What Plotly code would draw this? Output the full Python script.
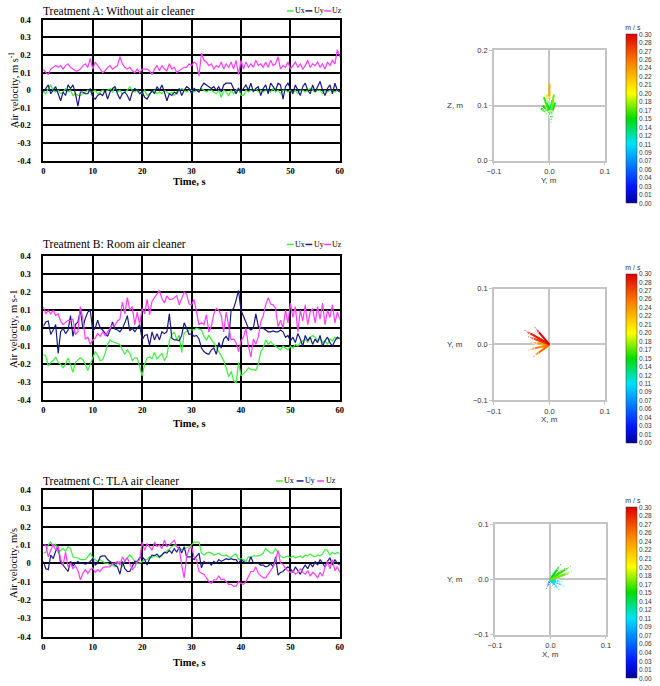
import numpy as np
import plotly.graph_objects as go
from plotly.colors import sample_colorscale

# ---------------- data ----------------
TIME = np.arange(0, 60.5, 0.5).tolist()

UX_A = [-0.01, -0.02, 0.01, 0.03, 0.00, -0.01, 0.00, -0.02, -0.01, 0.01,
        -0.01, 0.00, -0.03, -0.02, -0.03, -0.03, -0.02, -0.01, 0.00, -0.01,
        -0.01, 0.00, -0.02, -0.01, 0.00, -0.01, 0.00, 0.01, -0.01, 0.02,
        -0.01, 0.00, -0.02, -0.01, 0.00, 0.02, 0.00, -0.01, 0.00, -0.01,
        -0.02, 0.00, -0.03, -0.02, -0.01, 0.00, -0.02, -0.01, -0.02, 0.00,
        -0.01, -0.02, -0.01, -0.03, -0.01, 0.00, 0.01, 0.00, -0.01, 0.00,
        0.00, -0.01, 0.00, 0.00, 0.01, 0.00, -0.01, 0.00, 0.00, -0.01,
        -0.02, 0.00, -0.04, 0.00, -0.01, -0.03, 0.00, -0.02, 0.00, 0.01,
        -0.03, -0.03, 0.00, -0.01, 0.00, 0.00, 0.01, -0.01, 0.00, -0.01,
        0.00, 0.00, -0.01, 0.01, -0.01, 0.00, -0.02, 0.00, 0.00, -0.01,
        0.00, -0.01, 0.00, -0.02, 0.00, 0.00, -0.01, 0.00, 0.01, 0.00,
        -0.01, 0.00, 0.00, -0.02, 0.00, -0.01, 0.00, 0.00, -0.01, 0.00,
        -0.01]
UY_A = [-0.01, 0.01, 0.03, -0.02, 0.00, 0.02, -0.02, -0.06, -0.01, -0.03,
        0.03, 0.01, 0.03, -0.02, -0.09, -0.01, -0.01, -0.02, -0.02, 0.01,
        -0.04, -0.05, -0.03, -0.02, -0.03, 0.00, -0.05, -0.01, 0.01, 0.02,
        -0.02, -0.05, -0.02, -0.01, -0.03, -0.06, -0.01, 0.01, 0.00, -0.02,
        -0.01, -0.04, -0.05, -0.02, 0.00, -0.02, 0.02, 0.00, 0.03, -0.01,
        -0.06, -0.02, -0.03, -0.01, -0.02, 0.01, -0.03, 0.00, 0.02, 0.01,
        -0.02, 0.01, 0.00, -0.01, 0.02, 0.04, 0.03, 0.02, 0.01, 0.02,
        0.00, 0.02, -0.01, 0.03, 0.04, 0.04, 0.04, 0.01, -0.02, 0.01,
        -0.01, 0.01, 0.03, 0.00, 0.04, -0.01, 0.01, 0.02, -0.03, 0.01,
        0.03, -0.02, 0.04, 0.02, 0.00, 0.04, 0.03, -0.05, 0.02, 0.04,
        0.01, -0.02, 0.03, 0.00, -0.03, 0.02, 0.04, 0.00, -0.02, 0.03,
        -0.01, 0.02, 0.05, 0.00, -0.03, 0.01, 0.03, -0.02, 0.04, 0.00,
        -0.01]
UZ_A = [0.12, 0.10, 0.09, 0.12, 0.13, 0.14, 0.13, 0.14, 0.12, 0.14,
        0.15, 0.13, 0.12, 0.11, 0.11, 0.12, 0.14, 0.15, 0.13, 0.18,
        0.12, 0.16, 0.14, 0.12, 0.10, 0.11, 0.13, 0.14, 0.12, 0.13,
        0.14, 0.19, 0.15, 0.13, 0.12, 0.13, 0.11, 0.10, 0.12, 0.10,
        0.12, 0.12, 0.12, 0.11, 0.09, 0.12, 0.14, 0.11, 0.14, 0.12,
        0.11, 0.15, 0.12, 0.13, 0.10, 0.11, 0.12, 0.13, 0.13, 0.15,
        0.14, 0.16, 0.15, 0.08, 0.21, 0.17, 0.16, 0.14, 0.15, 0.12,
        0.14, 0.13, 0.16, 0.12, 0.15, 0.13, 0.16, 0.12, 0.17, 0.09,
        0.17, 0.12, 0.16, 0.13, 0.15, 0.13, 0.17, 0.14, 0.15, 0.13,
        0.16, 0.13, 0.17, 0.14, 0.15, 0.19, 0.12, 0.14, 0.13, 0.16,
        0.12, 0.14, 0.16, 0.13, 0.15, 0.12, 0.14, 0.17, 0.13, 0.15,
        0.14, 0.16, 0.13, 0.15, 0.12, 0.16, 0.14, 0.17, 0.15, 0.23,
        0.19]

UX_B = [-0.145, -0.155, -0.21, -0.19, -0.18, -0.16, -0.19, -0.20, -0.22, -0.20,
        -0.165, -0.20, -0.245, -0.19, -0.18, -0.165, -0.175, -0.20, -0.235, -0.20,
        -0.175, -0.13, -0.15, -0.18, -0.175, -0.14, -0.09, -0.065, -0.075, -0.08,
        -0.085, -0.09, -0.12, -0.145, -0.12, -0.14, -0.18, -0.165, -0.165, -0.22,
        -0.265, -0.20, -0.165, -0.16, -0.17, -0.135, -0.17, -0.155, -0.14, -0.18,
        -0.155, -0.07, -0.035, -0.02, -0.065, -0.04, -0.135, -0.025, -0.02, -0.01,
        -0.01, -0.01, 0.00, -0.005, -0.01, -0.045, -0.065, -0.04, -0.065, -0.08,
        -0.11, -0.13, -0.155, -0.18, -0.22, -0.27, -0.24, -0.29, -0.305, -0.19,
        -0.265, -0.255, -0.24, -0.22, -0.23, -0.23, -0.235, -0.20, -0.13, -0.11,
        -0.065, -0.09, -0.075, -0.09, -0.10, -0.11, -0.12, -0.10, -0.11, -0.12,
        -0.10, -0.11, -0.09, -0.10, -0.08, -0.07, -0.06, -0.08, -0.05, -0.04,
        -0.05, -0.07, -0.06, -0.08, -0.07, -0.09, -0.06, -0.07, -0.05, -0.06,
        -0.05]
UY_B = [0.01, 0.035, 0.04, -0.035, -0.01, 0.02, -0.14, -0.02, 0.00, -0.03,
        -0.01, 0.07, -0.045, 0.02, 0.035, 0.10, 0.00, 0.055, 0.09, 0.10,
        -0.015, 0.00, 0.045, 0.00, -0.01, -0.03, -0.045, -0.01, 0.035, -0.005,
        -0.01, -0.02, 0.00, 0.03, 0.07, -0.015, 0.00, -0.02, 0.00, 0.02,
        -0.065, -0.04, -0.035, -0.095, -0.02, -0.065, -0.03, -0.065, -0.02, -0.03,
        -0.02, 0.08, -0.055, -0.065, -0.065, -0.07, -0.04, 0.03, 0.00, -0.035,
        -0.03, -0.045, -0.04, -0.06, -0.11, -0.13, -0.14, -0.145, -0.12, -0.11,
        -0.145, -0.08, -0.11, -0.06, -0.045, -0.07, 0.10, 0.11, 0.155, 0.21,
        0.10, 0.07, 0.03, 0.00, -0.01, 0.00, 0.08, 0.01, 0.00, 0.00,
        -0.01, -0.02, -0.02, -0.015, -0.02, -0.02, -0.01, -0.02, -0.05, -0.04,
        -0.07, -0.05, -0.08, -0.03, -0.06, -0.10, -0.04, -0.07, -0.05, -0.09,
        -0.06, -0.08, -0.04, -0.10, -0.07, -0.05, -0.08, -0.10, -0.07, -0.05,
        -0.06]
UZ_B = [0.12, 0.08, 0.10, 0.08, 0.10, 0.07, 0.08, 0.04, 0.02, 0.03,
        0.045, 0.04, 0.05, -0.035, -0.02, 0.12, 0.05, -0.06, -0.05, -0.09,
        -0.065, -0.055, -0.03, -0.045, -0.02, -0.04, -0.02, 0.00, 0.02, 0.015,
        0.04, 0.05, 0.145, 0.08, 0.17, 0.10, 0.12, 0.02, 0.09, 0.02,
        0.11, 0.08, 0.16, 0.075, 0.15, 0.17, 0.19, 0.21, 0.165, 0.14,
        0.18, 0.16, 0.16, 0.17, 0.18, 0.13, 0.16, 0.20, 0.19, 0.135,
        0.13, 0.16, 0.09, 0.02, 0.03, 0.02, 0.075, -0.02, 0.01, 0.08,
        0.11, 0.10, 0.07, -0.02, 0.09, 0.01, -0.065, -0.06, -0.08, -0.13,
        -0.07, -0.05, 0.00, -0.10, -0.16, -0.06, -0.09, -0.05, 0.035, 0.07,
        0.13, 0.17, 0.135, 0.13, 0.11, 0.01, 0.045, 0.00, 0.10, 0.03,
        0.14, 0.06, 0.12, -0.02, 0.10, 0.04, 0.13, 0.02, 0.09, 0.11,
        0.03, 0.12, 0.05, 0.14, 0.02, 0.10, 0.06, 0.13, 0.03, 0.09,
        0.05]

UX_C = [0.055, 0.06, 0.10, 0.115, 0.09, 0.105, 0.06, 0.07, 0.08, 0.065,
        0.09, 0.08, 0.035, 0.03, 0.03, 0.02, 0.02, 0.02, 0.035, 0.055,
        0.03, 0.02, 0.01, 0.02, 0.01, 0.00, 0.00, -0.01, -0.01, -0.02,
        0.00, 0.01, -0.02, 0.02, 0.03, 0.045, 0.03, 0.01, 0.00, 0.00,
        0.01, 0.02, 0.02, 0.035, 0.03, 0.045, 0.035, 0.03, 0.045, 0.055,
        0.065, 0.075, 0.09, 0.10, 0.09, 0.08, 0.075, 0.08, 0.085, 0.09,
        0.10, 0.115, 0.115, 0.115, 0.055, 0.045, 0.055, 0.06, 0.055, 0.045,
        0.05, 0.055, 0.045, 0.04, 0.045, 0.035, 0.032, 0.045, 0.05, 0.02,
        0.025, 0.02, 0.01, 0.035, 0.03, 0.04, 0.04, 0.04, 0.045, 0.055,
        0.08, 0.07, 0.055, 0.055, 0.08, 0.06, 0.04, 0.03, 0.035, 0.04,
        0.03, 0.04, 0.03, 0.035, 0.04, 0.03, 0.045, 0.04, 0.05, 0.04,
        0.035, 0.045, 0.04, 0.05, 0.075, 0.07, 0.045, 0.06, 0.05, 0.06,
        0.05]
UY_C = [0.01, -0.03, -0.035, 0.045, 0.025, 0.065, 0.09, 0.00, -0.01, -0.03,
        -0.045, 0.01, -0.015, 0.00, 0.01, 0.00, 0.00, -0.005, 0.00, 0.01,
        0.025, -0.01, 0.00, 0.035, 0.04, 0.04, 0.02, 0.01, 0.00, -0.01,
        -0.02, -0.06, 0.01, -0.03, -0.045, -0.045, -0.02, 0.01, 0.01, 0.03,
        0.035, 0.02, -0.01, 0.025, 0.045, 0.04, 0.05, 0.035, 0.045, 0.06,
        0.055, 0.07, 0.055, 0.08, 0.06, 0.09, 0.055, 0.09, 0.035, 0.035,
        0.035, 0.02, 0.035, 0.055, -0.025, 0.01, 0.00, 0.005, -0.01, 0.01,
        0.00, 0.02, 0.01, 0.02, 0.025, 0.02, 0.025, 0.02, 0.02, 0.00,
        0.02, 0.01, 0.00, 0.00, 0.035, 0.00, 0.00, 0.00, -0.01, -0.01,
        -0.02, -0.015, 0.00, -0.02, 0.035, -0.065, -0.05, -0.045, -0.03, -0.02,
        -0.03, -0.05, -0.02, -0.04, -0.06, -0.03, -0.01, -0.03, 0.00, -0.02,
        0.01, -0.01, 0.02, 0.00, -0.02, 0.01, 0.03, -0.01, 0.02, 0.00,
        -0.01]
UZ_C = [0.10, 0.10, 0.035, 0.07, 0.105, 0.07, 0.095, 0.02, -0.01, 0.06,
        -0.02, 0.00, -0.03, -0.015, -0.04, -0.09, -0.055, -0.035, -0.055, -0.035,
        -0.025, -0.05, -0.035, -0.045, -0.025, -0.02, -0.02, -0.02, 0.00, 0.00,
        0.01, -0.01, 0.035, 0.01, 0.03, 0.00, -0.035, -0.02, 0.01, 0.02,
        0.115, 0.07, 0.105, 0.09, 0.07, 0.115, 0.09, 0.10, 0.08, 0.125,
        0.09, 0.10, 0.115, 0.125, 0.09, 0.08, -0.01, -0.08, 0.035, 0.08,
        0.09, 0.035, 0.02, -0.045, -0.055, -0.06, -0.08, -0.10, -0.11, -0.09,
        -0.09, -0.07, -0.09, -0.085, -0.10, -0.115, -0.115, -0.125, -0.125, -0.10,
        -0.11, -0.115, -0.10, -0.07, -0.045, -0.045, -0.02, -0.055, -0.07, -0.08,
        -0.08, -0.06, -0.035, -0.02, 0.02, 0.07, 0.00, -0.005, -0.03, -0.04,
        -0.05, -0.04, -0.06, -0.05, -0.03, -0.05, -0.06, -0.04, -0.07, -0.05,
        -0.06, -0.08, -0.05, -0.07, -0.02, 0.01, -0.03, 0.02, -0.04, -0.02,
        -0.05]

SERIES_NAMES = ["Ux", "Uy", "Uz"]
TITLES = ["Treatment A: Without air cleaner",
          "Treatment B: Room air cleaner",
          "Treatment C: TLA air cleaner"]
YTITLES = ["Air velocity, m s<sup>-1</sup>", "Air velocity, m s-1", "Air velocity, m/s"]
X_TICKS = [0, 10, 20, 30, 40, 50, 60]
Y_TICKS = [0.4, 0.3, 0.2, 0.1, 0.0, -0.1, -0.2, -0.3, -0.4]
Y_TICKTEXT = [["0.4", "0.3", "0.2", "0.1", "0", "-0.1", "-0.2", "-0.3", "-0.4"],
              ["0.4", "0.3", "0.2", "0.1", "0.0", "-0.1", "-0.2", "-0.3", "-0.4"],
              ["0.4", "0.3", "0.2", "0.1", "0", "-0.1", "-0.2", "-0.3", "-0.4"]]

# vector plots: segment starts/ends (m) and speed (m/s)
VA_Y0 = [0.000, -0.005, -0.010, 0.008, -0.012, 0.010, -0.004, 0.005, -0.015, 0.000]
VA_Z0 = [0.140, 0.120, 0.115, 0.120, 0.100, 0.105, 0.110, 0.110, 0.095, 0.105]
VA_Y1 = [0.000, 0.000, 0.002, 0.002, 0.000, 0.003, 0.003, 0.003, -0.005, 0.005]
VA_Z1 = [0.105, 0.100, 0.080, 0.080, 0.085, 0.080, 0.075, 0.070, 0.085, 0.080]
VA_S = [0.23, 0.19, 0.16, 0.17, 0.15, 0.15, 0.14, 0.11, 0.15, 0.13]

VB_X1 = [-0.044, -0.026, -0.038, -0.037, -0.028, -0.025, -0.019, -0.033, -0.012, -0.008, -0.030, -0.020]
VB_Y1 = [0.025, 0.030, 0.014, -0.010, -0.021, 0.008, -0.007, 0.004, -0.012, 0.003, 0.018, -0.016]
VB_S = [0.29, 0.30, 0.28, 0.25, 0.26, 0.22, 0.20, 0.24, 0.21, 0.15, 0.27, 0.23]

VC_X1 = [0.036, 0.038, 0.018, 0.030, 0.024, 0.015, -0.007, 0.009, 0.021, 0.026, 0.004]
VC_Y1 = [0.024, 0.014, 0.027, 0.0095, -0.012, -0.018, -0.016, 0.017, -0.004, 0.020, -0.010]
VC_S = [0.16, 0.17, 0.15, 0.16, 0.11, 0.10, 0.06, 0.12, 0.11, 0.15, 0.08]

CB_TICKVALS = [i * 0.015 for i in range(21)]
CB_TICKTEXT = ["0.00", "0.01", "0.03", "0.04", "0.06", "0.07", "0.09", "0.11", "0.12", "0.14",
               "0.15", "0.17", "0.18", "0.20", "0.21", "0.22", "0.24", "0.26", "0.27", "0.28", "0.30"]

for s in (UX_A, UY_A, UZ_A, UX_B, UY_B, UZ_B, UX_C, UY_C, UZ_C):
    assert len(s) == len(TIME), len(s)

# ---------------- layout helpers ----------------
W, H = 660, 686
def fx(px): return px / W
def fy(py): return 1 - py / H

COLORS = ["#3ef03e", "#1a1a80", "#ff3cff"]
CSCALE = [[0.0, "#0000a0"], [0.1, "#0018ff"], [0.35, "#00e0ff"], [0.5, "#00dd00"],
          [0.65, "#ffff00"], [0.82, "#ff8800"], [1.0, "#e00000"]]
SERIF = "Liberation Serif"
SANS = "Liberation Sans"

fig = go.Figure()

# line chart geometry (px): left, right, top(0.4), bottom(-0.4)
LINE_BOX = [(37, 339, 15, 158), (37, 339, 255, 401), (37, 339, 492, 641)]
TITLE_Y = [6, 243, 483]
XLAB_Y = [179, 425, 667]
LEG_X0 = [285, 285, 274]
LEG_STEP = [19, 19, 21]
data_sets = [(UX_A, UY_A, UZ_A), (UX_B, UY_B, UZ_B), (UX_C, UY_C, UZ_C)]

annotations = []
shapes = []
for k in range(3):
    ax = "" if k == 0 else str(k + 1)
    for j, (name, vals) in enumerate(zip(SERIES_NAMES, data_sets[k])):
        fig.add_trace(go.Scatter(x=TIME, y=vals, mode="lines", name=name,
                                 line=dict(color=COLORS[j], width=1.2),
                                 showlegend=False,
                                 xaxis="x" + ax, yaxis="y" + ax))
    l, r, t, b = LINE_BOX[k]
    fig.update_layout(**{
        "xaxis" + ax: dict(domain=[fx(l), fx(r)], range=[0, 60], tickvals=X_TICKS,
                           showgrid=True, gridcolor="black", gridwidth=1.6,
                           showline=True, linecolor="black", linewidth=1.6, mirror=True,
                           zeroline=False, ticks="", anchor="y" + ax, ticklabelstandoff=1,
                           tickfont=dict(family=SERIF, size=8.5, color="black", weight="bold")),
        "yaxis" + ax: dict(domain=[fy(b), fy(t)], range=[-0.4, 0.4], tickvals=Y_TICKS,
                           ticktext=Y_TICKTEXT[k],
                           showgrid=True, gridcolor="black", gridwidth=1.6,
                           showline=True, linecolor="black", linewidth=1.6, mirror=True,
                           zeroline=False, ticks="", anchor="x" + ax, ticklabelstandoff=9,
                           tickfont=dict(family=SERIF, size=8.5, color="black", weight="bold")),
    })
    annotations.append(dict(text=TITLES[k], x=fx(35), y=fy(TITLE_Y[k]), xref="paper", yref="paper",
                            xanchor="left", yanchor="middle", showarrow=False,
                            font=dict(family=SERIF, size=11.5, color="black")))
    annotations.append(dict(text=YTITLES[k], x=fx(6), y=fy((t + b) / 2), xref="paper", yref="paper",
                            xanchor="center", yanchor="middle", textangle=-90, showarrow=False,
                            font=dict(family=SERIF, size=10.5, color="black")))
    annotations.append(dict(text="Time, s", x=fx((l + r) / 2 - 3), y=fy(XLAB_Y[k]), xref="paper", yref="paper",
                            xanchor="center", yanchor="middle", showarrow=False,
                            font=dict(family=SERIF, size=10.5, color="black", weight="bold")))
    # legend (line sample + label)
    for j, name in enumerate(SERIES_NAMES):
        lx = LEG_X0[k] + j * LEG_STEP[k]
        shapes.append(dict(type="line", xref="paper", yref="paper",
                           x0=fx(lx), x1=fx(lx + 7), y0=fy(TITLE_Y[k]), y1=fy(TITLE_Y[k]),
                           line=dict(color=COLORS[j], width=1.5)))
        annotations.append(dict(text=name, x=fx(lx + 7.5), y=fy(TITLE_Y[k]), xref="paper", yref="paper",
                                xanchor="left", yanchor="middle", showarrow=False,
                                borderpad=0,
                                font=dict(family=SERIF, size=8, color="black")))

# vector plots
VEC_BOX = [(496, 609, 46, 158), (496, 609, 288, 401), (497, 610, 527, 639)]
VEC_YRANGE = [[0, 0.2], [-0.1, 0.1], [-0.1, 0.1]]
VEC_YTICKS = [[0.0, 0.1, 0.2], [-0.1, 0.0, 0.1], [-0.1, 0.0, 0.1]]
VEC_XTITLE = ["Y, m", "X, m", "X, m"]
VEC_YTITLE = ["Z, m", "Y, m", "Y, m"]
CB_BOX = [(19, 200), (262, 443), (499, 682)]

vec_sets = [
    (VA_Y0, VA_Z0, VA_Y1, VA_Z1, VA_S),
    ([0.0] * len(VB_X1), [0.0] * len(VB_Y1), VB_X1, VB_Y1, VB_S),
    ([0.0] * len(VC_X1), [0.0] * len(VC_Y1), VC_X1, VC_Y1, VC_S),
]

for k in range(3):
    ax = str(k + 4)
    x0s, y0s, x1s, y1s, ss = vec_sets[k]
    cols = sample_colorscale(CSCALE, [s / 0.3 for s in ss])
    order = sorted(range(len(ss)), key=lambda i: ss[i])
    for i in order:
        fig.add_trace(go.Scatter(x=[x0s[i], x1s[i]], y=[y0s[i], y1s[i]], mode="lines+markers",
                                 line=dict(color=cols[i], width=2),
                                 marker=dict(symbol="arrow", size=[1, 6], angleref="previous",
                                             color=cols[i]),
                                 showlegend=False, hoverinfo="skip",
                                 xaxis="x" + ax, yaxis="y" + ax))
    ca = "coloraxis" + ("" if k == 0 else str(k + 1))
    fig.add_trace(go.Scatter(x=x1s, y=y1s, mode="markers",
                             marker=dict(size=1, color=ss, coloraxis=ca),
                             showlegend=False, hoverinfo="skip",
                             xaxis="x" + ax, yaxis="y" + ax))
    l, r, t, b = VEC_BOX[k]
    cbt, cbb = CB_BOX[k]
    axstyle = dict(showgrid=True, gridcolor="#c4c4c4", gridwidth=1.5,
                   showline=True, linecolor="#c4c4c4", linewidth=1.5, mirror=True,
                   zeroline=False, ticks="outside", ticklen=3, tickcolor="#c4c4c4",
                   tickformat=".1f",
                   tickfont=dict(family=SANS, size=7.5, color="#333333"))
    fig.update_layout(**{
        "xaxis" + ax: dict(domain=[fx(l), fx(r)], range=[-0.1, 0.1], tickvals=[-0.1, 0.0, 0.1],
                           anchor="y" + ax, **axstyle),
        "yaxis" + ax: dict(domain=[fy(b), fy(t)], range=VEC_YRANGE[k], tickvals=VEC_YTICKS[k],
                           anchor="x" + ax, **axstyle),
        ca: dict(cmin=0, cmax=0.3, colorscale=CSCALE,
                 colorbar=dict(x=fx(630), xanchor="left", y=fy((cbt + cbb) / 2), yanchor="middle",
                               len=cbb - cbt, lenmode="pixels", thickness=11,
                               outlinewidth=0.5, outlinecolor="#333333",
                               tickvals=CB_TICKVALS, ticktext=CB_TICKTEXT, ticks="",
                               ticklabelposition="outside",
                               tickfont=dict(family=SANS, size=6.5, color="#333333"),
                               title=dict(text="m / s", side="top",
                                          font=dict(family=SANS, size=7, color="#333333")),
                               xpad=0, ypad=0)),
    })
    annotations.append(dict(text=VEC_XTITLE[k], x=fx((l + r) / 2), y=fy(b + 20), xref="paper", yref="paper",
                            xanchor="center", yanchor="middle", showarrow=False,
                            font=dict(family=SANS, size=8, color="#333333")))
    annotations.append(dict(text=VEC_YTITLE[k], x=fx(456), y=fy((t + b) / 2), xref="paper", yref="paper",
                            xanchor="center", yanchor="middle", showarrow=False,
                            font=dict(family=SANS, size=8, color="#333333")))

fig.update_layout(width=W, height=H, margin=dict(l=0, r=0, t=0, b=0),
                  paper_bgcolor="white", plot_bgcolor="white",
                  annotations=annotations, shapes=shapes, showlegend=False)

fig.write_html("out.html", config={"displayModeBar": False},
               post_script="document.body.style.margin='0';")
